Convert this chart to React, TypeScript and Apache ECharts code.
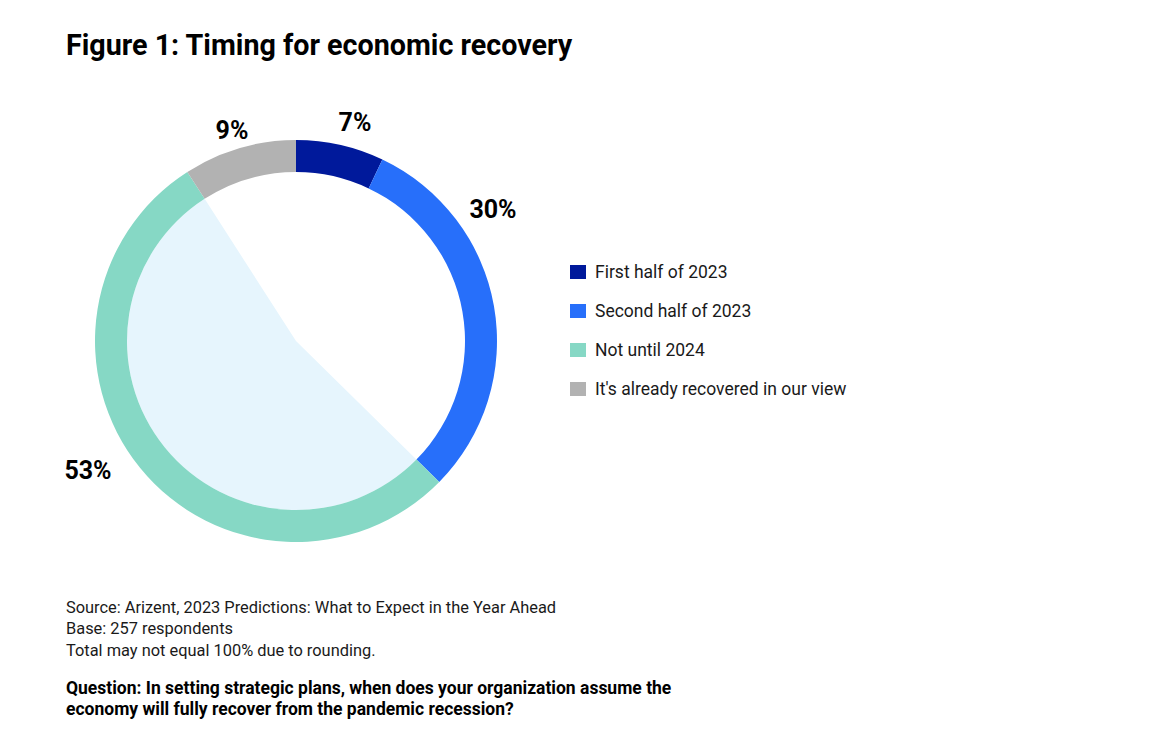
import React, { useEffect, useRef } from "react";
import * as echarts from "echarts";

const CATEGORIES = [
  "First half of 2023",
  "Second half of 2023",
  "Not until 2024",
  "It's already recovered in our view",
];
const VALUES = [7, 30, 53, 9];
const COLORS = ["#00199b", "#276ffa", "#86d8c5", "#b2b2b2"];
const HIGHLIGHT_INDEX = 2;
const INNER_FILL = "#e6f5fd";
const TITLE = "Figure 1: Timing for economic recovery";
const NOTES = [
  "Source: Arizent, 2023 Predictions: What to Expect in the Year Ahead",
  "Base: 257 respondents",
  "Total may not equal 100% due to rounding.",
];
const QUESTION = [
  "Question: In setting strategic plans, when does your organization assume the",
  "economy will fully recover from the pandemic recession?",
];
// label anchor positions (layout, not data)
const LABEL_POS: [number, number][] = [
  [355, 122],
  [493, 209],
  [88, 470],
  [232, 130],
];

const FONT = "Roboto, 'Noto Sans', sans-serif";

export default function App() {
  const ref = useRef<HTMLDivElement>(null);
  useEffect(() => {
    if (!ref.current) return;
    const chart = echarts.init(ref.current, null, { renderer: "svg" });
    const center = [296, 341];
    chart.setOption({
      animation: false,
      backgroundColor: "#ffffff",
      title: {
        text: TITLE,
        left: 66,
        top: 30,
        padding: 0,
        textStyle: {
          fontFamily: FONT,
          fontSize: 28.7,
          fontWeight: "bold",
          color: "#000000",
        },
      },
      legend: {
        orient: "vertical",
        left: 570,
        top: 263,
        padding: 0,
        itemWidth: 16,
        itemHeight: 14,
        itemGap: 21,
        icon: "rect",
        data: CATEGORIES,
        selectedMode: false,
        textStyle: {
          fontFamily: FONT,
          fontSize: 17.5,
          color: "#1a1a1a",
          padding: [0, 0, 0, 4],
        },
      },
      series: [
        {
          type: "pie",
          name: "inner",
          center,
          radius: [0, 169],
          startAngle: 90,
          clockwise: true,
          silent: true,
          label: { show: false },
          labelLine: { show: false },
          data: VALUES.map((v, i) => ({
            name: "inner-" + CATEGORIES[i],
            value: v,
            itemStyle: {
              color: i === HIGHLIGHT_INDEX ? INNER_FILL : "rgba(0,0,0,0)",
            },
          })),
        },
        {
          type: "pie",
          name: "recovery",
          center,
          radius: [169, 201],
          startAngle: 90,
          clockwise: true,
          silent: true,
          itemStyle: { borderWidth: 0 },
          label: {
            show: true,
            formatter: "{c}%",
            fontFamily: FONT,
            fontSize: 25,
            fontWeight: "bold",
            color: "#000000",
          },
          labelLine: { show: false },
          labelLayout: (params: any) => {
            const p = LABEL_POS[params.dataIndex];
            return { x: p[0], y: p[1], align: "center", verticalAlign: "middle" };
          },
          data: VALUES.map((v, i) => ({
            name: CATEGORIES[i],
            value: v,
            itemStyle: { color: COLORS[i] },
          })),
        },
      ],
      graphic: [
        ...NOTES.map((t, i) => ({
          type: "text",
          x: 66,
          y: 607 + i * 21.5,
          style: {
            text: t,
            fontFamily: FONT,
            fontSize: 16.4,
            fill: "#1a1a1a",
            verticalAlign: "middle",
          },
        })),
        ...QUESTION.map((t, i) => ({
          type: "text",
          x: 66,
          y: 688 + i * 21,
          style: {
            text: t,
            fontFamily: FONT,
            fontSize: 17.5,
            fontWeight: "bold",
            fill: "#000000",
            verticalAlign: "middle",
          },
        })),
      ],
    });
    return () => chart.dispose();
  }, []);
  return (
    <div
      ref={ref}
      style={{ position: "fixed", left: 0, top: 0, width: 1160, height: 752 }}
    />
  );
}
